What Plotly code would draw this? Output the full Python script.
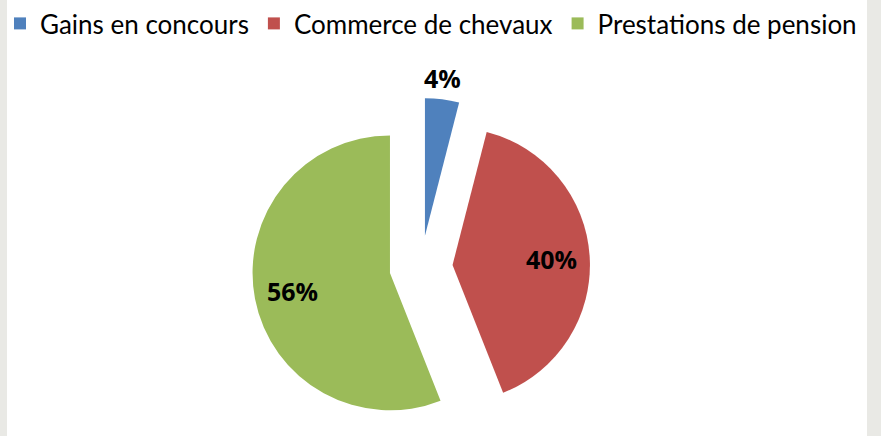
import math
import plotly.graph_objects as go

categories = ["Gains en concours", "Commerce de chevaux", "Prestations de pension"]
values = [4, 40, 56]
colors = ["#4F81BD", "#C0504D", "#9BBB59"]
label_outside = [True, False, False]

W, H = 881, 436
cx, cy, half = 421, 267, 169
pull = 0.23
r = half / (1 + pull)

fig = go.Figure(go.Pie(
    labels=categories,
    values=values,
    sort=False,
    direction="clockwise",
    rotation=0,
    pull=[pull] * len(values),
    marker=dict(colors=colors, line=dict(width=0)),
    textinfo="none",
    domain=dict(x=[(cx - half) / W, (cx + half) / W], y=[1 - (cy + half) / H, 1 - (cy - half) / H]),
    hoverinfo="skip",
))

# percentage labels placed from the data (mid-angle of each slice)
total = sum(values)
annotations = []
cum = 0
for v, outside in zip(values, label_outside):
    mid = (cum + v / 2) / total * 2 * math.pi
    cum += v
    vx = cx + pull * r * math.sin(mid)
    vy = cy - pull * r * math.cos(mid)
    f = 1.02 if outside else 0.72
    px = vx + f * r * math.sin(mid)
    py = vy - f * r * math.cos(mid)
    annotations.append(dict(
        x=px / W, y=1 - py / H, xref="paper", yref="paper",
        text="<b>%d%%</b>" % round(v / total * 100), showarrow=False,
        xanchor="center", yanchor="bottom" if outside else "middle",
        font=dict(family="Open Sans", size=25, color="black"),
    ))

fig.update_layout(
    width=W, height=H,
    margin=dict(l=0, r=0, t=0, b=0, autoexpand=False),
    paper_bgcolor="#E9E9E5",
    plot_bgcolor="white",
    shapes=[dict(type="rect", xref="paper", yref="paper", x0=7 / W, x1=867 / W, y0=0, y1=1,
                 fillcolor="white", line=dict(width=0), layer="below")],
    annotations=annotations,
    showlegend=True,
    legend=dict(orientation="h", x=0.0, y=1.0, xanchor="left", yanchor="top",
                font=dict(family="Lato", size=26, color="black"),
                bgcolor="rgba(0,0,0,0)", itemwidth=30),
)

fig.write_html("out.html", config={"displayModeBar": False},
               post_script="document.body.style.margin='0';document.body.style.overflow='hidden';")
